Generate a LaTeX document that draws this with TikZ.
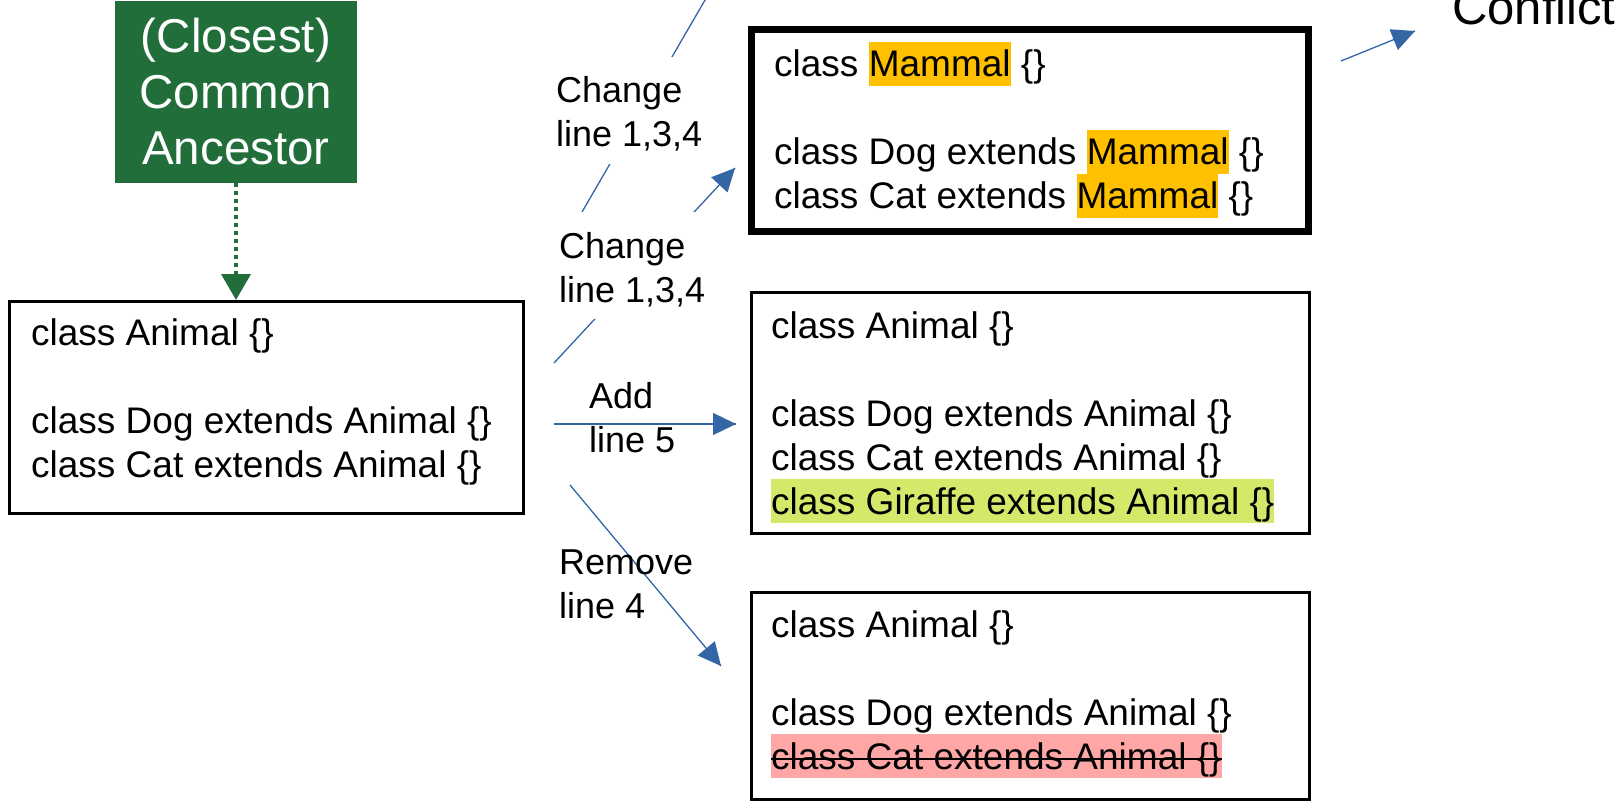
\documentclass[tikz,border=0pt]{standalone}
\usepackage{fontspec}
\setmainfont{Liberation Sans}
\usetikzlibrary{arrows.meta,decorations.markings}

\definecolor{ancgreen}{RGB}{33,110,58}
\definecolor{flowblue}{RGB}{52,101,164}
\definecolor{mammalhl}{RGB}{255,192,0}
\definecolor{addhl}{RGB}{213,232,106}
\definecolor{delhl}{RGB}{255,166,166}

\newcommand{\linestrut}{\rule[-9pt]{0pt}{44pt}}
\newcommand{\hilite}[1]{{\setlength{\fboxsep}{0pt}\colorbox{mammalhl}{\linestrut#1}}}
\newcommand{\topstrut}{\rule{0pt}{34pt}}

\begin{document}
\begin{tikzpicture}[x=1pt,y=-1pt,
  code/.style={anchor=base west,inner sep=0pt,font=\fontsize{37}{44}\selectfont},
  box/.style={draw,line width=3pt,inner sep=0pt},
  lbl/.style={anchor=base west,align=left,inner sep=0pt,font=\fontsize{36}{44}\selectfont},
  flow/.style={flowblue,line width=1.3pt,
    decoration={markings,mark=at position 1 with {\arrow{Triangle[length=23pt,width=22pt]}}},
    postaction={decorate}}]

\useasboundingbox (0,0) rectangle (1621,802);

% ancestor and the three versions
\node[fill=ancgreen,text=white,minimum width=242pt,minimum height=182pt,inner sep=0pt,
      align=center,font=\fontsize{47.5}{56}\selectfont] (anc) at (236,92) {(Closest)\\Common\\Ancestor};
\node[box,minimum width=514pt,minimum height=212pt] (base) at (266.5,407.5) {};
\node[box,line width=7pt,minimum width=557pt,minimum height=202pt] (theirs) at (1030,130.5) {};
\node[box,minimum width=558pt,minimum height=241pt] (ours) at (1030.5,413) {};
\node[box,minimum width=558pt,minimum height=207pt] (gone) at (1030.5,696) {};

\draw[ancgreen,line width=4pt,dash pattern=on 4pt off 4pt,-{Triangle[length=26pt,width=29pt]}]
  (anc.south) -- (anc.south |- base.north);

% file contents
\node[code] (b1) at (31,345) {class Animal \{\}};
\node[code] (b2) at (31,433) {class Dog extends Animal \{\}};
\node[code] (b3) at (31,477) {class Cat extends Animal \{\}};

\node[code] (t1) at (774,77) {class \hilite{Mammal} \{\}};
\node[code] (t2) at (774,165) {class Dog extends \hilite{Mammal} \{\}};
\node[code] (t3) at (774,209) {class Cat extends \hilite{Mammal} \{\}};

\node[code] (o1) at (771,338) {class Animal \{\}};
\node[code] (o2) at (771,426) {class Dog extends Animal \{\}};
\node[code] (o3) at (771,470) {class Cat extends Animal \{\}};
\node[code,fill=addhl] (o4) at (771,514) {\linestrut class Giraffe extends Animal \{\}};

\node[code] (g1) at (771,637) {class Animal \{\}};
\node[code] (g2) at (771,725) {class Dog extends Animal \{\}};
\node[code,fill=delhl] (g3) at (771,769) {\linestrut class Cat extends Animal \{\}};
\draw[line width=2pt] ([yshift=10pt]g3.base west) -- ([yshift=10pt]g3.base east); % struck out

% edits
\coordinate (up0) at (582,212);
\coordinate (up1) at (712,-12);
\coordinate (chgA) at (554,363);
\coordinate (chgB) at (735,168);
\coordinate (addA) at (554,424);
\coordinate (addB) at (736,424);
\coordinate (remA) at (570,485);
\coordinate (remB) at (721,666);
\coordinate (confA) at (1341,61);
\coordinate (confB) at (1415,31);

\draw[flowblue,line width=1.3pt] (up0) -- (up1);
\draw[flow] (chgA) -- (chgB);
\draw[flow] (addA) -- (addB);
\draw[flow] (remA) -- (remB);
\draw[flow] (confA) -- (confB);

% base anchor sits on the last line here
\node[lbl,fill=white,inner sep=12pt] (chg1) at (544,147) {\topstrut Change\\line 1,3,4};
\node[lbl,fill=white,inner sep=12pt] (chg2) at (547,302) {\topstrut Change\\line 1,3,4};
\node[lbl] (add) at (589,452) {Add\\line 5};
\node[lbl] (rem) at (559,618) {Remove\\line 4};
\node[anchor=base west,inner sep=0pt,font=\fontsize{49}{56}\selectfont] (conf) at (1452,25) {Conflict};
\end{tikzpicture}
\end{document}
